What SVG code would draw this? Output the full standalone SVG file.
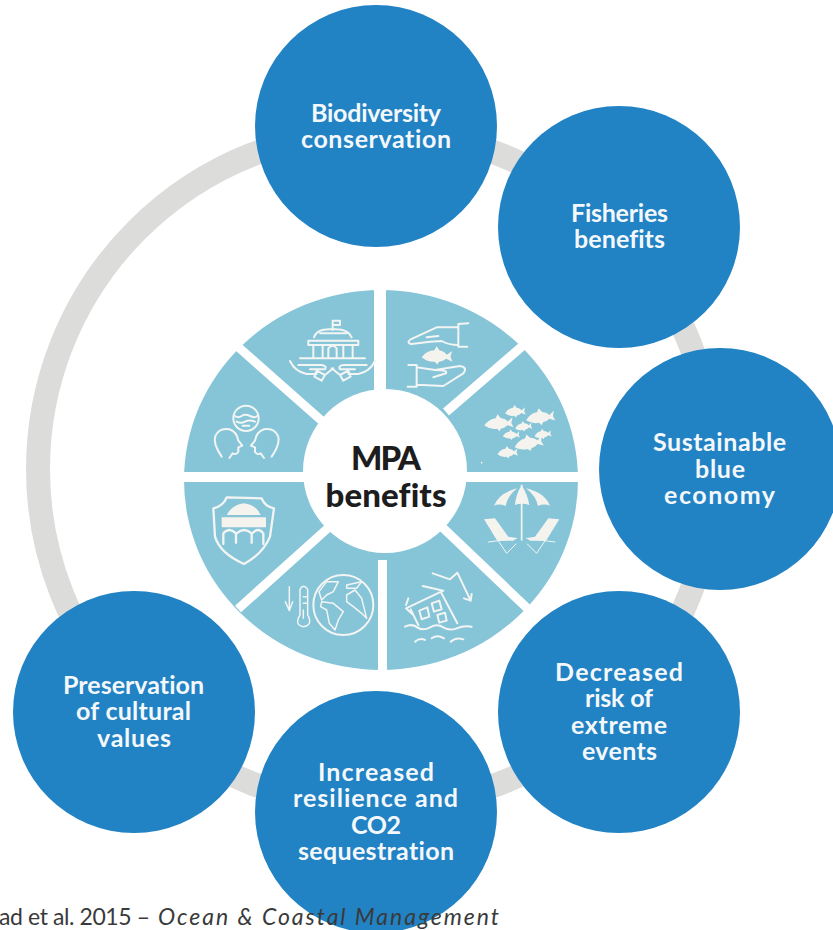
<svg xmlns="http://www.w3.org/2000/svg" width="833" height="930" viewBox="0 0 833 930">
<style>
.n{fill:#2182c4}
.t{font-family:"Lato","Open Sans","Liberation Sans",sans-serif;font-weight:700;font-size:25px;fill:#f4f8fb;text-anchor:middle;font-variant-ligatures:none}
.c{font-family:"Lato","Liberation Sans",sans-serif;font-size:23px;fill:#3a3a3a;font-variant-ligatures:none}
.m{font-family:"Lato","Liberation Sans",sans-serif;font-weight:900;font-size:33px;fill:#1d1d20;text-anchor:middle;font-variant-ligatures:none}
.i{fill:none;stroke:#f2f5f3;stroke-width:6;stroke-linecap:round;stroke-linejoin:round}
.g{fill:none;stroke:#f2f5f3;stroke-width:4.500;stroke-linecap:round;stroke-linejoin:round}
.f{fill:#f5f3ee}
.b{stroke:#fff;stroke-width:9;fill:none}
</style>
<defs>
<path id="fish" d="M-50,4 Q-32,-20 -8,-20 L0,-34 L10,-19 Q26,-16 34,-4 L52,-18 L46,2 L52,20 L32,10 Q20,20 8,20 L2,30 L-6,20 Q-30,22 -50,4Z"/>
</defs>
<rect width="833" height="930" fill="#fff"/>
<g id="connectors">
<circle cx="376" cy="469" r="338" fill="none" stroke="#dcdcdb" stroke-width="24"/>
</g>
<g id="wheel">
<ellipse cx="381" cy="480" rx="197" ry="190" fill="#86c4d8"/>
<path class="b" d="M236,345L322,421M526,343L446,412M238,609L328,528M528,609L441,526"/>
<path class="b" style="stroke-width:10" d="M180,477H310M460,477H585"/>
<path class="b" style="stroke-width:12" d="M380,285V400"/>
<path class="b" d="M382.500,560V675"/>
<circle cx="385" cy="471" r="82" fill="#fff"/>
<g transform="translate(170,280) scale(.3333)">
<!-- building on hands -->
<path class="i" d="M488,150V122H510V135H488M432,172Q440,145 488,148Q535,145 545,172M415,182H565V195H415ZM430,195V232M458,195V232M520,195V232M548,195V232M475,232V205Q488,190 500,205V232M390,235H585M450,160H530"/>
<path class="i" d="M385,255H455Q472,258 465,268L420,268M360,243Q375,275 410,282H440M440,272L465,285L455,302L433,290ZM465,285L490,265M590,255H520Q503,258 510,268L555,268M615,243Q600,275 565,282H535M535,272L510,285L520,302L542,290ZM510,285L485,265"/>
<!-- heads -->
<circle class="i" cx="228" cy="415" r="38"/>
<path class="i" d="M195,408Q205,415 215,408T240,408T262,408M200,425Q212,432 225,425T255,425M218,437H238"/>
<path class="i" d="M155,530Q128,490 136,468Q148,442 178,448Q200,455 205,482L217,497L205,502V515Q200,526 188,520L178,534"/>
<path class="i" d="M305,530Q332,490 324,468Q312,442 282,448Q260,455 255,482L243,497L255,502V515Q260,526 272,520L282,534"/>
</g>
<g transform="translate(380,280) scale(.3333)">
<!-- hands with fish -->
<path class="i" d="M265,130L235,132V200L262,200M235,142L170,142L92,178Q78,190 95,192L150,185L185,183Q205,195 235,195M140,172L175,168"/>
<path class="i" d="M85,255H110V320H83M110,262L165,270L240,258Q264,262 250,280L190,318L110,314M165,270Q205,270 198,280L160,292"/>
<use href="#fish" class="f" transform="translate(170,228) scale(.9,.85)"/>
<use href="#fish" class="f" transform="translate(355,430) rotate(-5) scale(.85,.8)"/>
<use href="#fish" class="f" transform="translate(405,395) rotate(-5) scale(.6)"/>
<use href="#fish" class="f" transform="translate(480,412) rotate(-8) scale(.85,.8)"/>
<use href="#fish" class="f" transform="translate(430,440) rotate(-8) scale(.5)"/>
<use href="#fish" class="f" transform="translate(393,465) rotate(-5) scale(.5)"/>
<use href="#fish" class="f" transform="translate(488,463) rotate(-8) scale(.5)"/>
<use href="#fish" class="f" transform="translate(445,490) rotate(-12) scale(.85,.8)"/>
<use href="#fish" class="f" transform="translate(382,518) rotate(-5) scale(.6)"/>
<circle class="f" cx="305" cy="548" r="2.500"/>
</g>
<g transform="translate(380,470) scale(.3333)">
<!-- beach -->
<path class="f" d="M342,107Q358,68 412,55Q382,78 377,108Q358,100 342,107ZM405,105Q408,72 425,46Q442,72 448,105Q425,97 405,105ZM510,107Q494,68 438,55Q468,78 474,108Q492,100 510,107Z"/>
<path class="i" d="M425,46V210" style="stroke-width:5"/>
<path class="f" d="M312,148L345,145L385,200L410,204L400,212L352,212ZM538,148L505,145L465,200L440,204L450,212L498,212Z"/>
<path class="g" d="M325,216L410,205M340,190L380,250L408,222M525,216L440,205M510,190L470,250L442,222" style="stroke-width:3"/>
<!-- flood -->
<path class="i" d="M158,310L210,328L232,308L272,392M252,385L272,392L275,372"/>
<path class="i" d="M128,348L190,362L78,415L100,435M92,418L115,465M182,365L232,460M78,405L85,385"/>
<path class="i" d="M118,422L142,412L148,440L125,448ZM155,400L178,392L185,418L162,425ZM172,435L195,428L200,452L178,458Z"/>
<path class="i" d="M75,470Q95,460 112,472T150,472T190,472T230,475T275,470M105,515Q120,502 135,510M155,505Q172,492 192,505M212,515Q228,500 250,508"/>
</g>
<g transform="translate(170,470) scale(.3333)">
<!-- shield -->
<path class="i" d="M130,115Q160,108 170,82L275,85Q285,110 312,115L300,200Q280,250 222,282Q150,250 135,200Z" style="stroke-width:7"/>
<path class="f" d="M170,135Q185,105 222,100Q260,105 272,135Z"/>
<path class="f" d="M155,142H288V172H155Z"/>
<path class="i" d="M160,222V190Q178,170 198,190V218M200,190Q222,170 245,190V218M247,190Q265,170 280,190V222" style="stroke-width:7"/>
<!-- thermometer and globe -->
<circle class="i" cx="520" cy="405" r="90"/>
<path class="i" d="M358,350V420M346,395L358,422L368,395" style="stroke-width:4.500"/>
<path class="g" d="M390,435V358Q400,340 413,358V435Q430,465 400,470Q372,465 390,435ZM400,380H410M400,400H410M400,420V445"/>
<path class="g" d="M470,335L505,335L490,365L470,375L455,390L447,365ZM455,395L490,400L520,425L505,450L495,480L478,460L470,420L452,410ZM530,345L575,335L560,355L530,355ZM530,375L555,360L575,385L590,445L575,430L550,410L530,395Z"/>
</g>
</g>
<g id="center-label">
<text class="m" x="386" y="470" textLength="70">MPA</text>
<text class="m" x="386" y="507" textLength="121">benefits</text>
</g>
<g id="node-biodiversity">
<circle class="n" cx="376" cy="126" r="121"/>
<text class="t" x="376" y="122" textLength="130">Biodiversity</text>
<text class="t" x="376" y="148" textLength="150">conservation</text>
</g>
<g id="node-fisheries">
<circle class="n" cx="619" cy="227" r="121"/>
<text class="t" x="619.500" y="222" textLength="97">Fisheries</text>
<text class="t" x="619.500" y="248" textLength="91">benefits</text>
</g>
<g id="node-economy">
<circle class="n" cx="720" cy="469" r="121"/>
<text class="t" x="719.500" y="451" textLength="133">Sustainable</text>
<text class="t" x="720" y="478" textLength="50">blue</text>
<text class="t" x="719.500" y="504" textLength="111">economy</text>
</g>
<g id="node-risk">
<circle class="n" cx="619" cy="712" r="121"/>
<text class="t" x="619" y="681" textLength="128">Decreased</text>
<text class="t" x="619" y="707" textLength="68">risk of</text>
<text class="t" x="619" y="734" textLength="96">extreme</text>
<text class="t" x="619.500" y="760" textLength="75">events</text>
</g>
<g id="node-resilience">
<circle class="n" cx="376" cy="812" r="121"/>
<text class="t" x="376" y="781" textLength="116">Increased</text>
<text class="t" x="375.500" y="807" textLength="165">resilience and</text>
<text class="t" x="376" y="834" textLength="50">CO2</text>
<text class="t" x="376" y="860" textLength="156">sequestration</text>
</g>
<g id="node-cultural">
<circle class="n" cx="134" cy="712" r="121"/>
<text class="t" x="133.500" y="694" textLength="141">Preservation</text>
<text class="t" x="133.500" y="720" textLength="115">of cultural</text>
<text class="t" x="134" y="747" textLength="74">values</text>
</g>
<g id="citation">
<text class="c" x="-1" y="925" textLength="151">ad et al. 2015 –</text>
<text class="c" x="158" y="925" textLength="341" font-style="italic">Ocean &amp; Coastal Management</text>
</g>
</svg>
